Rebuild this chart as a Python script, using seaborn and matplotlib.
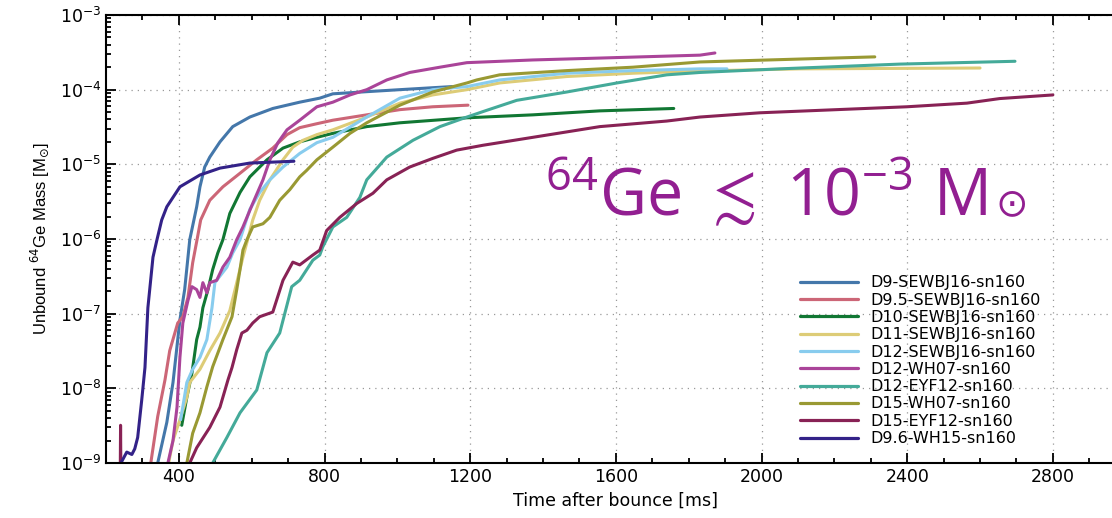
import numpy as np
import pandas as pd
import matplotlib
matplotlib.use("Agg")
import matplotlib.pyplot as plt
from matplotlib.ticker import MultipleLocator, LogLocator, NullFormatter
import seaborn as sns

# ---- model runs: time after bounce [ms] and unbound 64Ge mass [Msun] ----
labels = [
    "D9-SEWBJ16-sn160", "D9.5-SEWBJ16-sn160", "D10-SEWBJ16-sn160",
    "D11-SEWBJ16-sn160", "D12-SEWBJ16-sn160", "D12-WH07-sn160",
    "D12-EYF12-sn160", "D15-WH07-sn160", "D15-EYF12-sn160", "D9.6-WH15-sn160",
]
colors = ["#4477AA", "#CC6677", "#117733", "#DDCC77", "#88CCEE",
          "#AA4499", "#44AA99", "#999933", "#882255", "#332288"]

t_d9 = [342, 367, 384, 403, 416, 430, 449, 458, 471, 485, 513, 548, 595, 658,
        732, 787, 823, 916, 1007, 1150]
m_d9 = [1.0e-9, 3.5e-9, 1.2e-8, 8.3e-8, 2.1e-7, 9.8e-7, 2.7e-6, 5.0e-6, 9.2e-6,
        1.25e-5, 2.0e-5, 3.2e-5, 4.3e-5, 5.6e-5, 6.8e-5, 7.7e-5, 8.8e-5, 9.4e-5,
        1.0e-4, 1.1e-4]

t_d95 = [323, 342, 362, 375, 397, 411, 425, 438, 450, 460, 485, 521, 568, 614,
         658, 697, 732, 779, 823, 916, 1007, 1097, 1194]
m_d95 = [1.0e-9, 4.2e-9, 1.3e-8, 3.2e-8, 7.5e-8, 9.1e-8, 1.65e-7, 4.8e-7, 9.8e-7,
         1.8e-6, 3.3e-6, 5.0e-6, 7.6e-6, 1.15e-5, 1.65e-5, 2.5e-5, 3.1e-5, 3.5e-5,
         3.9e-5, 4.6e-5, 5.4e-5, 5.9e-5, 6.2e-5]

t_d10 = [408, 422, 436, 449, 458, 466, 480, 493, 507, 521, 540, 568, 595, 642,
         686, 732, 779, 823, 916, 1007, 1191, 1372, 1556, 1759]
m_d10 = [3.2e-9, 7.6e-9, 1.6e-8, 4.5e-8, 6.6e-8, 1.2e-7, 2.1e-7, 3.9e-7, 6.5e-7,
         9.8e-7, 2.2e-6, 4.2e-6, 6.8e-6, 1.15e-5, 1.65e-5, 2.0e-5, 2.3e-5, 2.6e-5,
         3.2e-5, 3.6e-5, 4.2e-5, 4.6e-5, 5.2e-5, 5.6e-5]

t_d11 = [372, 384, 403, 422, 430, 458, 485, 513, 540, 559, 576, 589, 603, 622,
         650, 686, 713, 741, 779, 823, 916, 1007, 1097, 1191, 1281, 1465, 1647,
         1831, 2105, 2600]
m_d11 = [1.0e-9, 2.0e-9, 3.8e-9, 7.6e-9, 1.2e-8, 1.8e-8, 3.2e-8, 5.5e-8, 1.1e-7,
         2.6e-7, 5.7e-7, 9.8e-7, 1.8e-6, 3.3e-6, 6.2e-6, 1.15e-5, 1.7e-5, 2.1e-5,
         2.5e-5, 2.9e-5, 4.3e-5, 6.6e-5, 8.5e-5, 1.0e-4, 1.23e-4, 1.5e-4, 1.66e-4,
         1.78e-4, 1.9e-4, 1.95e-4]

t_d12s = [405, 422, 438, 458, 477, 491, 499, 532, 548, 568, 595, 622, 650, 686,
          732, 779, 823, 916, 1007, 1097, 1191, 1281, 1465, 1647, 1831, 1905]
m_d12s = [3.8e-9, 1.2e-8, 1.8e-8, 2.6e-8, 4.5e-8, 1.2e-7, 2.6e-7, 4.2e-7, 6.5e-7,
          9.8e-7, 2.5e-6, 4.2e-6, 6.2e-6, 9.2e-6, 1.4e-5, 1.95e-5, 2.3e-5, 4.3e-5,
          7.7e-5, 1.0e-4, 1.1e-4, 1.35e-4, 1.66e-4, 1.8e-4, 1.9e-4, 1.9e-4]

t_d12w = [370, 384, 395, 403, 411, 425, 436, 449, 458, 466, 477, 485, 504, 521,
          540, 559, 576, 603, 631, 650, 672, 697, 732, 779, 823, 870, 916, 971,
          1034, 1117, 1191, 1372, 1556, 1831, 1872]
m_d12w = [1.0e-9, 2.0e-9, 5.6e-9, 2.6e-8, 7.5e-8, 1.5e-7, 2.3e-7, 2.1e-7, 1.65e-7,
          2.6e-7, 1.9e-7, 2.6e-7, 2.8e-7, 4.2e-7, 5.7e-7, 9.8e-7, 1.45e-6, 3.0e-6,
          6.2e-6, 1.15e-5, 1.95e-5, 2.9e-5, 3.9e-5, 5.9e-5, 6.8e-5, 8.5e-5, 1.0e-4,
          1.35e-4, 1.7e-4, 2.0e-4, 2.3e-4, 2.5e-4, 2.65e-4, 2.9e-4, 3.1e-4]

t_d12e = [493, 532, 568, 614, 642, 677, 710, 732, 768, 787, 795, 823, 861, 897,
          916, 971, 1043, 1117, 1191, 1246, 1328, 1465, 1603, 1740, 1831, 2050,
          2380, 2696]
m_d12e = [1.0e-9, 2.2e-9, 4.7e-9, 9.5e-9, 3.0e-8, 5.5e-8, 2.3e-7, 2.8e-7, 5.2e-7,
          6.1e-7, 7.8e-7, 1.45e-6, 1.95e-6, 3.6e-6, 6.2e-6, 1.25e-5, 2.1e-5, 3.2e-5,
          4.3e-5, 5.3e-5, 7.2e-5, 9.3e-5, 1.23e-4, 1.58e-4, 1.7e-4, 1.9e-4, 2.2e-4,
          2.4e-4]

t_d15w = [422, 438, 458, 477, 493, 521, 546, 559, 568, 576, 587, 603, 631, 650,
          677, 705, 732, 751, 779, 823, 870, 916, 1007, 1097, 1191, 1218, 1281,
          1465, 1647, 1831, 2311]
m_d15w = [1.0e-9, 2.5e-9, 4.7e-9, 1.05e-8, 1.95e-8, 4.5e-8, 9.1e-8, 2.1e-7, 3.9e-7,
          7.1e-7, 9.8e-7, 1.45e-6, 1.6e-6, 1.95e-6, 3.3e-6, 4.6e-6, 6.8e-6, 8.3e-6,
          1.15e-5, 1.7e-5, 2.6e-5, 3.6e-5, 6.2e-5, 9.3e-5, 1.23e-4, 1.35e-4,
          1.58e-4, 1.8e-4, 2.0e-4, 2.35e-4, 2.75e-4]

t_d15e = [238, 240, 242, 430, 449, 485, 513, 535, 546, 559, 573, 587, 603, 622,
          658, 686, 713, 732, 768, 787, 806, 842, 889, 933, 971, 1034, 1097, 1163,
          1235, 1372, 1556, 1740, 1831, 1995, 2399, 2564, 2654, 2800]
m_d15e = [1.0e-10, 3.2e-9, 1.0e-10, 1.0e-9, 1.6e-9, 3.0e-9, 5.6e-9, 1.3e-8, 1.9e-8,
          3.3e-8, 5.5e-8, 6.0e-8, 7.5e-8, 9.1e-8, 1.05e-7, 2.8e-7, 4.9e-7, 4.5e-7,
          6.1e-7, 7.1e-7, 1.3e-6, 1.95e-6, 3.0e-6, 4.1e-6, 6.2e-6, 9.2e-6, 1.2e-5,
          1.55e-5, 1.8e-5, 2.3e-5, 3.2e-5, 3.8e-5, 4.3e-5, 4.9e-5, 5.9e-5, 6.6e-5,
          7.6e-5, 8.5e-5]

t_d96 = [241, 257, 271, 279, 287, 298, 307, 315, 329, 340, 353, 367, 403, 458,
         513, 595, 716]
m_d96 = [1.0e-9, 1.4e-9, 1.3e-9, 1.55e-9, 2.2e-9, 6.9e-9, 1.9e-8, 1.2e-7, 5.7e-7,
         9.8e-7, 1.8e-6, 2.7e-6, 5.0e-6, 7.2e-6, 8.9e-6, 1.04e-5, 1.1e-5]

times = [t_d9, t_d95, t_d10, t_d11, t_d12s, t_d12w, t_d12e, t_d15w, t_d15e, t_d96]
masses = [m_d9, m_d95, m_d10, m_d11, m_d12s, m_d12w, m_d12e, m_d15w, m_d15e, m_d96]

frames = []
for lab, t, m in zip(labels, times, masses):
    frames.append(pd.DataFrame({"time": t, "mass": m, "model": lab}))
df = pd.concat(frames, ignore_index=True)

sns.set_style("ticks")
plt.rcParams["font.family"] = ["DejaVu Sans"]
plt.rcParams["mathtext.fontset"] = "dejavusans"
# used only by the headline annotation (math_fontfamily="custom")
plt.rcParams["mathtext.rm"] = "Open Sans"
plt.rcParams["mathtext.it"] = "Open Sans:italic"
plt.rcParams["mathtext.bf"] = "Open Sans:bold"
plt.rcParams["mathtext.sf"] = "Open Sans"
plt.rcParams["mathtext.fallback"] = "stixsans"
plt.rcParams["text.color"] = "black"
plt.rcParams["axes.labelcolor"] = "black"

fig = plt.figure(figsize=(11.12, 5.18), dpi=100)
ax = fig.add_axes([106 / 1112, 55 / 518, 1019.7 / 1112, 448 / 518])

sns.lineplot(data=df, x="time", y="mass", hue="model", hue_order=labels,
             palette=dict(zip(labels, colors)), estimator=None, sort=False,
             units="model", linewidth=2.2, ax=ax, legend=True)

ax.set_yscale("log")
ax.set_xlim(200, 3000)
ax.set_ylim(1e-9, 1e-3)

ax.xaxis.set_major_locator(MultipleLocator(400))
ax.xaxis.set_minor_locator(MultipleLocator(100))
ax.yaxis.set_major_locator(LogLocator(base=10, numticks=10))
ax.yaxis.set_minor_locator(LogLocator(base=10, subs=np.arange(2, 10), numticks=20))
ax.yaxis.set_minor_formatter(NullFormatter())

ax.tick_params(which="both", direction="in", top=True, right=False,
               colors="black", labelsize=12.5, width=1.3)
ax.tick_params(which="major", length=7)
ax.tick_params(which="minor", length=3.5)
for s in ["left", "bottom", "top"]:
    ax.spines[s].set_linewidth(1.5)
    ax.spines[s].set_color("black")
ax.spines["right"].set_visible(False)

ax.grid(True, which="major", linestyle=(0, (1, 4)), color="#999999", linewidth=0.9)

ax.set_xlabel("Time after bounce [ms]", fontsize=12.5, labelpad=4)
ax.set_ylabel(r"Unbound $^{64}$Ge Mass [M$_{\odot}$]", fontsize=12,
              family=["Liberation Sans", "DejaVu Sans"], labelpad=6)

leg = ax.legend(loc="upper left", bbox_to_anchor=(0.6806, 0.419), frameon=False,
                fontsize=11.5, handlelength=3.6, handletextpad=0.8,
                labelspacing=0.145, borderaxespad=0, borderpad=0)
for line in leg.get_lines():
    line.set_linewidth(2.3)
for txt in leg.get_texts():
    txt.set_color("black")

# headline bound on ejected 64Ge
purple = "#921F91"
ybase = 2.1e-6
head = ax.text(1405, ybase, r"$^{64}\mathrm{Ge}\ \lesssim\ 10^{-3}\ \mathrm{M}$",
               fontsize=46.5, color=purple, math_fontfamily="custom",
               ha="left", va="baseline")
ax.annotate("\u2299", xy=(1.0, ybase), xycoords=(head, "data"),
            xytext=(6, 0), textcoords="offset points",
            fontsize=28, color=purple, ha="left", va="baseline")

fig.savefig("out.png", dpi=100)
